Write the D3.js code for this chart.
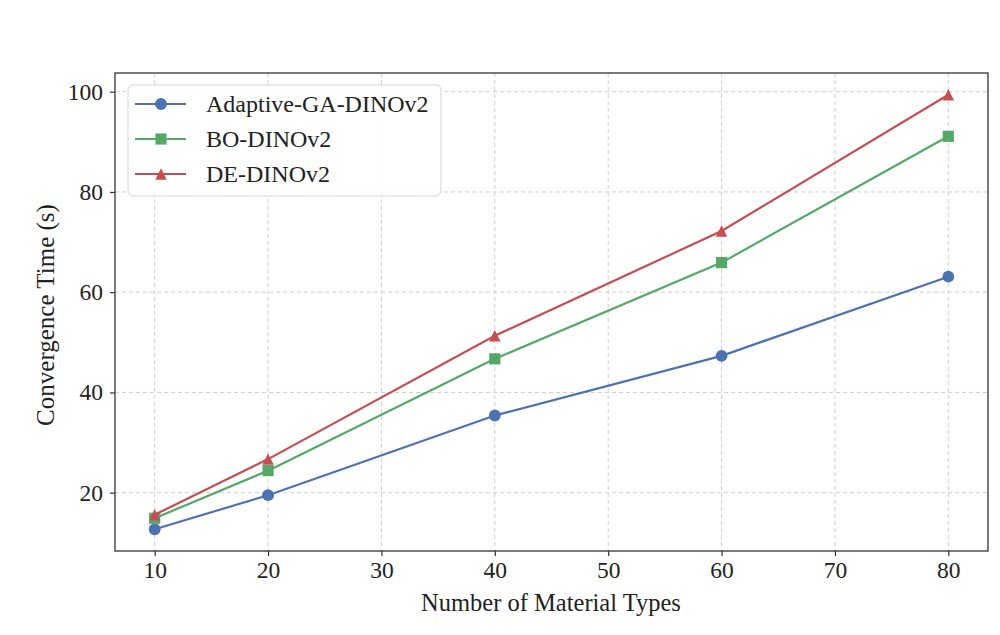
<!DOCTYPE html>
<html>
<head>
<meta charset="utf-8">
<script src="https://cdn.jsdelivr.net/npm/d3@7"></script>
<style>
  body { margin: 0; background: #fff; }
  svg { font-family: "Liberation Serif", "Times New Roman", serif; }
</style>
</head>
<body>
<svg id="chart" width="1000" height="635"></svg>
<script>
// data
const materialTypes = [10, 20, 40, 60, 80];
const adaptiveGA = [12.7, 19.5, 35.4, 47.3, 63.1];
const boDino = [14.9, 24.4, 46.7, 65.9, 91.1];
const deDino = [15.6, 26.7, 51.3, 72.2, 99.4];
const xTicks = [10, 20, 30, 40, 50, 60, 70, 80];
const yTicks = [20, 40, 60, 80, 100];

const series = [
    { name: "Adaptive-GA-DINOv2", values: adaptiveGA, color: "#4C72B0", marker: "circle" },
    { name: "BO-DINOv2", values: boDino, color: "#55A868", marker: "square" },
    { name: "DE-DINOv2", values: deDino, color: "#C44E52", marker: "triangle" }
];

const svg = d3.select("#chart");
const plotLeft = 115, plotRight = 988, plotTop = 73, plotBottom = 551;

// matplotlib style 5% margins
const xMin = d3.min(materialTypes), xMax = d3.max(materialTypes);
const allY = adaptiveGA.concat(boDino, deDino);
const yMin = d3.min(allY), yMax = d3.max(allY);
const xPad = (xMax - xMin) * 0.05, yPad = (yMax - yMin) * 0.05;

const x = d3.scaleLinear().domain([xMin - xPad, xMax + xPad]).range([plotLeft, plotRight]);
const y = d3.scaleLinear().domain([yMin - yPad, yMax + yPad]).range([plotBottom, plotTop]);

// grid
const grid = svg.append("g");
grid.selectAll(".vg").data(xTicks).enter().append("line")
    .attr("x1", d => x(d)).attr("x2", d => x(d))
    .attr("y1", plotTop).attr("y2", plotBottom)
    .attr("stroke", "#cfcfcf").attr("stroke-width", 1).attr("stroke-dasharray", "4,3");
grid.selectAll(".hg").data(yTicks).enter().append("line")
    .attr("x1", plotLeft).attr("x2", plotRight)
    .attr("y1", d => y(d)).attr("y2", d => y(d))
    .attr("stroke", "#cfcfcf").attr("stroke-width", 1).attr("stroke-dasharray", "4,3");

// axes
const xAxis = svg.append("g")
    .attr("transform", `translate(0,${plotBottom})`)
    .call(d3.axisBottom(x).tickValues(xTicks).tickSize(5).tickPadding(5));
const yAxis = svg.append("g")
    .attr("transform", `translate(${plotLeft},0)`)
    .call(d3.axisLeft(y).tickValues(yTicks).tickSize(5).tickPadding(7));
[xAxis, yAxis].forEach(a => {
    a.select(".domain").remove();
    a.selectAll("line").attr("stroke", "#333").attr("stroke-width", 1.2);
    a.selectAll("text").attr("fill", "#222")
        .style("font-family", "'Liberation Serif', serif").style("font-size", "23.5px");
});

// frame
svg.append("rect")
    .attr("x", plotLeft).attr("y", plotTop)
    .attr("width", plotRight - plotLeft).attr("height", plotBottom - plotTop)
    .attr("fill", "none").attr("stroke", "#333").attr("stroke-width", 1.3);

// axis labels
svg.append("text")
    .attr("x", 551).attr("y", 611)
    .attr("text-anchor", "middle").attr("fill", "#222")
    .style("font-size", "24.5px")
    .text("Number of Material Types");
svg.append("text")
    .attr("transform", `translate(54,315) rotate(-90)`)
    .attr("text-anchor", "middle").attr("fill", "#222")
    .style("font-size", "25px")
    .text("Convergence Time (s)");

// matplotlib-like '^': width equals height, centred on its box
const markerTriangle = {
    draw(context, size) {
        const s = Math.sqrt(size) / 2;
        context.moveTo(0, -s);
        context.lineTo(s, s);
        context.lineTo(-s, s);
        context.closePath();
    }
};

const symbolFor = {
    circle: d3.symbol().type(d3.symbolCircle).size(110),
    square: d3.symbol().type(d3.symbolSquare).size(125),
    triangle: d3.symbol().type(markerTriangle).size(130)
};

const line = d3.line()
    .x((d, i) => x(materialTypes[i]))
    .y(d => y(d));

series.forEach(s => {
    const g = svg.append("g");
    g.append("path")
        .attr("d", line(s.values))
        .attr("fill", "none")
        .attr("stroke", s.color)
        .attr("stroke-width", 2.2);
    g.selectAll("path.m").data(s.values).enter().append("path")
        .attr("class", "m")
        .attr("d", symbolFor[s.marker])
        .attr("transform", (d, i) => `translate(${x(materialTypes[i])},${y(d)})`)
        .attr("fill", s.color);
});

// legend
const legend = svg.append("g").attr("transform", "translate(128,85)");
legend.append("rect")
    .attr("width", 313).attr("height", 111).attr("rx", 5)
    .attr("fill", "#fff").attr("fill-opacity", 0.85)
    .attr("stroke", "#d5d5d5").attr("stroke-width", 1);
series.forEach((s, i) => {
    const row = legend.append("g").attr("transform", `translate(0,${19 + i * 35})`);
    row.append("line")
        .attr("x1", 7).attr("x2", 58)
        .attr("stroke", s.color).attr("stroke-width", 2.2);
    row.append("path")
        .attr("d", symbolFor[s.marker])
        .attr("transform", "translate(33,0)")
        .attr("fill", s.color);
    row.append("text")
        .attr("x", 78).attr("dy", "0.35em")
        .attr("fill", "#222")
        .style("font-size", "24px")
        .text(s.name);
});
</script>
</body>
</html>
